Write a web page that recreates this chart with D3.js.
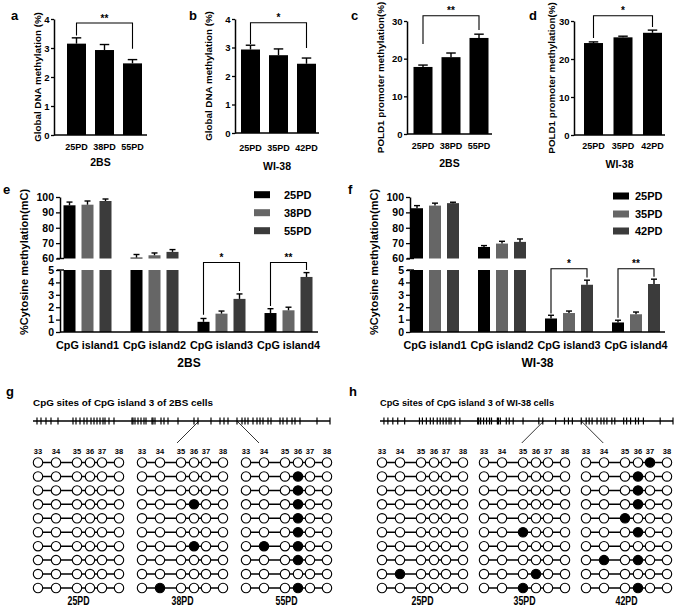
<!DOCTYPE html>
<html>
<head>
<meta charset="utf-8">
<script src="https://cdn.jsdelivr.net/npm/d3@7"></script>
<style>
body{margin:0;background:#fff;}
svg{font-family:"Liberation Sans",Arial,Helvetica,sans-serif;font-weight:bold;}
</style>
</head>
<body>
<svg id="fig" width="677" height="610"></svg>
<script>
// ---- data (a-d) ----
const pd2BS = ["25PD","38PD","55PD"];
const pdWI = ["25PD","35PD","42PD"];
const globalMeth2BS = [3.15, 2.93, 2.47];
const globalErr2BS = [0.20, 0.19, 0.13];
const globalMethWI = [2.93, 2.73, 2.43];
const globalErrWI = [0.15, 0.22, 0.20];
const poldMeth2BS = [17.8, 20.4, 25.5];
const poldErr2BS = [0.5, 1.1, 1.0];
const poldMethWI = [24.2, 25.7, 26.9];
const poldErrWI = [0.3, 0.3, 0.7];

// ---- data (e-f) ----
const islands = ["CpG island1","CpG island2","CpG island3","CpG island4"];
const e25 = [94.6, 60.6, 0.82, 1.53], e25err = [2.1, 2.0, 0.27, 0.35];
const e38 = [95.0, 62.1, 1.48, 1.75], e38err = [2.4, 1.5, 0.21, 0.25];
const e55 = [97.4, 64.3, 2.67, 4.44], e55err = [1.3, 1.5, 0.40, 0.35];
const f25 = [92.7, 67.5, 1.09, 0.77], f25err = [1.7, 0.9, 0.26, 0.18];
const f35 = [94.4, 69.7, 1.53, 1.43], f35err = [1.6, 1.5, 0.16, 0.18];
const f42 = [96.0, 70.8, 3.81, 3.87], f42err = [0.6, 1.9, 0.37, 0.39];
const upperTicks = [60, 70, 80, 90, 100];
const lowerTicks = [0, 1, 2, 3, 4, 5];

// ---- data (g-h) ----
// relative positions of the CpG sites along island 3
const islandSites = [4, 8, 13, 18, 25, 40, 43, 47, 51, 54, 58, 61, 64, 67, 70, 72, 76, 81, 99, 100, 102, 105, 108, 111, 113, 119, 120, 122, 128, 131, 135, 145, 161, 165, 178, 187, 191, 195, 204, 209, 212, 215, 220, 224, 227, 230, 235, 238, 247, 250, 254, 259, 262, 267, 284, 297];
const zoomSites = [166, 204];
const siteNames = ["33","34","35","36","37","38"];
const sitePos = [0, 18, 39, 52, 64, 81];
const g25 = ["000000","000000","000000","000000","000000","000000","000000","000000","000000","000000"];
const g38 = ["000000","000000","000000","000100","000000","000000","000100","000000","000000","010000"];
const g55 = ["000000","000100","000100","000100","000100","000100","010100","000100","000000","000100"];
const h25 = ["000000","000000","000000","000000","000000","000000","000000","000000","010000","000000"];
const h35 = ["000000","000000","000000","000000","000000","001000","000000","000000","000100","001000"];
const h42 = ["000010","000100","000100","000100","001000","000100","000000","010100","000000","000100"];

const svg = d3.select("#fig");

function label(g, x, y, s, size, anchor) {
  return g.append("text").attr("x", x).attr("y", y).attr("font-size", size)
    .attr("text-anchor", anchor || "middle").attr("fill", "#000").text(s);
}
function vlabel(g, x, y, s, size) {
  return g.append("text").attr("transform", `translate(${x},${y}) rotate(-90)`)
    .attr("font-size", size).attr("text-anchor", "middle")
    .attr("dominant-baseline", "central").attr("fill", "#000").text(s);
}
function styleAxis(a, size) {
  a.attr("font-family", null).attr("font-size", null);
  a.select(".domain").attr("stroke", "#000").attr("stroke-width", 1.5);
  a.selectAll(".tick line").attr("stroke", "#000").attr("stroke-width", 1.3);
  a.selectAll(".tick text").attr("font-size", size).attr("fill", "#000");
}
function errBar(g, cx, y0, y1, w) {
  g.append("line").attr("x1", cx).attr("x2", cx).attr("y1", y0).attr("y2", y1)
    .attr("stroke", "#000").attr("stroke-width", 1.4);
  g.append("line").attr("x1", cx - w / 2).attr("x2", cx + w / 2).attr("y1", y1).attr("y2", y1)
    .attr("stroke", "#000").attr("stroke-width", 1.4);
}
function bracket(g, xl, xr, yb, yl, yr, star, size) {
  g.append("path").attr("d", `M${xl},${yl}V${yb}H${xr}V${yr}`)
    .attr("fill", "none").attr("stroke", "#000").attr("stroke-width", 1.1);
  label(g, (xl + xr) / 2, yb - 1.5, star, size);
}

// simple 3-bar panels
function simplePanel(p) {
  const g = svg.append("g");
  const y = d3.scaleLinear().domain([0, p.max]).range([p.y0, p.y1]);
  const x = d3.scalePoint().domain(p.cats).range(p.xr);
  g.selectAll("rect").data(p.vals).join("rect")
    .attr("x", (d, i) => x(p.cats[i]) - p.bw / 2).attr("y", d => y(d))
    .attr("width", p.bw).attr("height", d => p.y0 - y(d)).attr("fill", "#000");
  p.vals.forEach((v, i) => errBar(g, x(p.cats[i]), y(v), y(v + p.errs[i]), p.bw * 0.5));
  const a = g.append("g").attr("transform", `translate(${p.ax},0)`)
    .call(d3.axisLeft(y).tickValues(p.ticks).tickFormat(d3.format("d"))
      .tickSize(3).tickSizeOuter(0).tickPadding(1.5));
  styleAxis(a, 9.5);
  g.append("line").attr("x1", p.ax).attr("x2", p.axEnd).attr("y1", p.y0).attr("y2", p.y0)
    .attr("stroke", "#000").attr("stroke-width", 1.5);
  p.cats.forEach(c => label(g, x(c), p.tickY, c, 9));
  label(g, (p.ax + p.axEnd) / 2, p.xlabY, p.xlab, 10.5);
  vlabel(g, p.ylabX, (p.y0 + p.y1) / 2, p.ylab, 9.8);
  const b = p.br;
  bracket(g, x(p.cats[0]), x(p.cats[2]), y(b[0]), y(b[1]), y(b[2]), b[3], 10);
  label(g, p.letterX, 20, p.letter, 13, "start");
}

simplePanel({cats: pd2BS, vals: globalMeth2BS, errs: globalErr2BS, max: 4, ticks: [0,1,2,3,4],
  y0: 135, y1: 19, xr: [76.5, 132.5], bw: 19, ax: 54, axEnd: 147, tickY: 149.5,
  xlab: "2BS", xlabY: 166, ylab: "Global DNA methylation (%)", ylabX: 37,
  br: [3.86, 3.43, 2.97, "**"], letter: "a", letterX: 11});
simplePanel({cats: pdWI, vals: globalMethWI, errs: globalErrWI, max: 4, ticks: [0,1,2,3,4],
  y0: 133, y1: 19, xr: [250.5, 306.5], bw: 19, ax: 235, axEnd: 319, tickY: 150.5,
  xlab: "WI-38", xlabY: 170, ylab: "Global DNA methylation (%)", ylabX: 208,
  br: [3.87, 3.12, 2.98, "*"], letter: "b", letterX: 189});
simplePanel({cats: pd2BS, vals: poldMeth2BS, errs: poldErr2BS, max: 30, ticks: [0,10,20,30],
  y0: 134, y1: 21, xr: [423, 479], bw: 19, ax: 407, axEnd: 492, tickY: 149,
  xlab: "2BS", xlabY: 167, ylab: "POLD1 promoter methylation(%)", ylabX: 380,
  br: [31.4, 23.9, 27.6, "**"], letter: "c", letterX: 351});
simplePanel({cats: pdWI, vals: poldMethWI, errs: poldErrWI, max: 30, ticks: [0,10,20,30],
  y0: 135, y1: 21, xr: [593.5, 652.5], bw: 19, ax: 574, axEnd: 665, tickY: 149,
  xlab: "WI-38", xlabY: 168, ylab: "POLD1 promoter methylation(%)", ylabX: 551,
  br: [31.4, 25.5, 28.4, "*"], letter: "d", letterX: 529});

// broken-axis grouped panels
const seriesColors = ["#000000", "#666666", "#3b3b3b"];
function cpgPanel(p) {
  const g = svg.append("g");
  const gx = d3.scalePoint().domain(islands).range(p.gr);
  const sx = d3.scalePoint().domain(p.series).range([-18, 18]);
  const yU = d3.scaleLinear().domain([60, 100]).range([258.5, 197]);
  const yL = d3.scaleLinear().domain([0, 5]).range([332, 270]);
  const bw = 12;
  p.series.forEach((s, si) => islands.forEach((isl, ii) => {
    const v = p.vals[si][ii], e = p.errs[si][ii], cx = gx(isl) + sx(s);
    if (v > 5) {
      g.append("rect").attr("x", cx - bw / 2).attr("y", yL(5)).attr("width", bw)
        .attr("height", yL(0) - yL(5)).attr("fill", seriesColors[si]);
      g.append("rect").attr("x", cx - bw / 2).attr("y", yU(v)).attr("width", bw)
        .attr("height", yU(60) - yU(v)).attr("fill", seriesColors[si]);
      errBar(g, cx, yU(v), yU(v + e), bw * 0.5);
    } else {
      g.append("rect").attr("x", cx - bw / 2).attr("y", yL(v)).attr("width", bw)
        .attr("height", yL(0) - yL(v)).attr("fill", seriesColors[si]);
      errBar(g, cx, yL(v), yL(v + e), bw * 0.5);
    }
  }));
  const aU = g.append("g").attr("transform", `translate(${p.ax},0)`)
    .call(d3.axisLeft(yU).tickValues(upperTicks).tickFormat(d3.format("d"))
      .tickSize(4).tickSizeOuter(0).tickPadding(2));
  const aL = g.append("g").attr("transform", `translate(${p.ax},0)`)
    .call(d3.axisLeft(yL).tickValues(lowerTicks).tickFormat(d3.format("d"))
      .tickSize(4).tickSizeOuter(0).tickPadding(2));
  styleAxis(aU, 10.5); styleAxis(aL, 10.5);
  [yU(60), yL(5)].forEach(yy => g.append("line").attr("x1", p.ax - 3).attr("x2", p.ax + 4)
    .attr("y1", yy).attr("y2", yy).attr("stroke", "#000").attr("stroke-width", 1.4));
  g.append("line").attr("x1", p.ax).attr("x2", p.axEnd).attr("y1", 332).attr("y2", 332)
    .attr("stroke", "#000").attr("stroke-width", 1.5);
  islands.forEach(isl => label(g, gx(isl), 349, isl, 10.8));
  label(g, (p.ax + p.axEnd) / 2, 367, p.xlab, 12);
  vlabel(g, p.ylabX, 262, "%Cytosine methylation(mC)", 11);
  p.brackets.forEach(b => {
    const c = gx(islands[b[0]]);
    bracket(g, c - 18, c + 18, yL(b[1]), yL(b[2]), yL(b[3]), b[4], 10);
  });
  p.series.forEach((s, si) => {
    const ly = p.legY[si];
    g.append("rect").attr("x", p.legX).attr("y", ly - 3.5).attr("width", 16).attr("height", 7)
      .attr("fill", seriesColors[si]);
    label(g, p.legX + p.legText, ly + 4, s, 11, "start");
  });
  label(g, p.letterX, 194, p.letter, 13, "start");
}

cpgPanel({series: pd2BS, vals: [e25, e38, e55], errs: [e25err, e38err, e55err],
  gr: [87.5, 288.5], ax: 60, axEnd: 318, xlab: "2BS", ylabX: 24,
  brackets: [[2, 5.6, 1.4, 3.3, "*"], [3, 5.6, 2.1, 5.0, "**"]],
  legX: 254, legText: 30, legY: [194.7, 212.7, 230.7], letter: "e", letterX: 3});
cpgPanel({series: pdWI, vals: [f25, f35, f42], errs: [f25err, f35err, f42err],
  gr: [435, 636], ax: 410, axEnd: 665, xlab: "WI-38", ylabX: 374,
  brackets: [[2, 5.1, 1.5, 4.4, "*"], [3, 5.1, 1.15, 4.45, "**"]],
  legX: 613, legText: 22, legY: [196, 214, 231], letter: "f", letterX: 348});

// bisulfite sequencing panels
function bisulfitePanel(p) {
  const g = svg.append("g");
  g.append("text").attr("x", p.line[0]).attr("y", 406).attr("font-size", 9)
    .attr("textLength", p.titleLen).attr("lengthAdjust", "spacingAndGlyphs").text(p.title);
  const ix = d3.scaleLinear().domain([0, 297]).range(p.line);
  g.append("line").attr("x1", p.line[0]).attr("x2", p.line[1]).attr("y1", 421).attr("y2", 421)
    .attr("stroke", "#000").attr("stroke-width", 1.7);
  g.selectAll("line.site").data(islandSites).join("line").attr("class", "site")
    .attr("x1", d => ix(d)).attr("x2", d => ix(d)).attr("y1", 417.5).attr("y2", 424.5)
    .attr("stroke", "#000").attr("stroke-width", 1.2);
  zoomSites.forEach((s, i) => g.append("line").attr("x1", ix(s)).attr("y1", 421)
    .attr("x2", ix(s) + (i === 0 ? -22 : 22)).attr("y2", 443).attr("stroke", "#000").attr("stroke-width", 0.8));
  const gx = d3.scalePoint().domain(p.groups).range(p.gr);
  const ry = d3.scaleLinear().domain([0, 9]).range([462.5, 588]);
  const sx = d3.scaleLinear().domain([0, 81]).range([0, 81]);
  p.groups.forEach((grp, gi) => {
    const x0 = gx(grp);
    siteNames.forEach((n, si) => label(g, x0 + sx(sitePos[si]), 454, n, 7.5));
    p.patterns[gi].forEach((row, ri) => {
      const yy = ry(ri);
      g.append("line").attr("x1", x0).attr("x2", x0 + sx(sitePos[5])).attr("y1", yy).attr("y2", yy)
        .attr("stroke", "#000").attr("stroke-width", 1.5);
      row.split("").forEach((c, si) => g.append("circle").attr("cx", x0 + sx(sitePos[si])).attr("cy", yy)
        .attr("r", 4.7).attr("fill", c === "1" ? "#000" : "#fff").attr("stroke", "#000").attr("stroke-width", 1.1));
    });
    g.append("text").attr("x", x0 + 40.5).attr("y", 605).attr("font-size", 12).attr("text-anchor", "middle")
      .attr("textLength", 22).attr("lengthAdjust", "spacingAndGlyphs").text(grp);
  });
  label(g, p.letterX, 396, p.letter, 13, "start");
}

bisulfitePanel({title: "CpG sites of CpG island 3 of 2BS cells", titleLen: 180, line: [33, 330],
  groups: pd2BS, patterns: [g25, g38, g55], gr: [38, 246], letter: "g", letterX: 6});
bisulfitePanel({title: "CpG sites of CpG island 3 of WI-38 cells", titleLen: 174, line: [380, 673],
  groups: pdWI, patterns: [h25, h35, h42], gr: [382, 586], letter: "h", letterX: 349});
</script>
</body>
</html>
